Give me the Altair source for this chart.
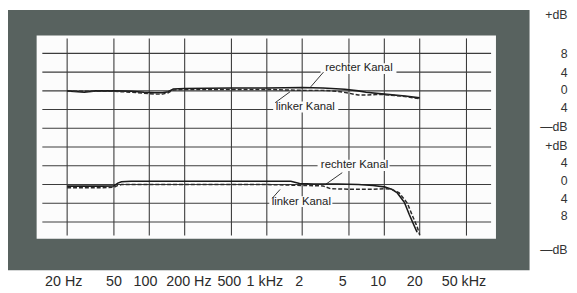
import altair as alt
import pandas as pd

# ---------------- data ----------------
# upper diagram (offset +20 dB on the common vertical scale)
UP_R_F = [20, 28, 35, 50, 70, 90, 110, 130, 145, 160, 200, 500, 1000, 2000, 3000, 4600, 6000, 7000, 10000, 15000, 20000]
UP_R_DB = [0, -0.3, 0, 0, -0.1, -0.3, -0.4, -0.4, -0.2, 0.4, 0.5, 0.6, 0.6, 0.7, 0.6, 0.35, 0, -0.3, -0.7, -1.1, -1.5]
UP_L_F = [20, 50, 70, 90, 110, 130, 145, 160, 200, 500, 1000, 2000, 3000, 4000, 5000, 6000, 7000, 8500, 10000, 15000, 20000]
UP_L_DB = [-0.1, -0.1, -0.3, -0.5, -0.7, -0.7, -0.4, 0.2, 0.3, 0.3, 0.3, 0.1, 0.1, -0.1, -0.5, -0.9, -0.9, -0.8, -0.8, -1.2, -1.7]
# lower diagram
LO_R_F = [20, 40, 50, 54, 58, 70, 100, 500, 1000, 1600, 1900, 2500, 4000, 6000, 8000, 10000, 11500, 12900, 14800, 16300, 17950, 19000]
LO_R_DB = [-0.35, -0.35, -0.3, 0.3, 0.6, 0.7, 0.7, 0.7, 0.7, 0.7, 0.2, 0.1, 0.1, 0, -0.2, -0.5, -1.0, -1.8, -3.8, -6.4, -8.8, -10.2]
LO_L_F = [20, 40, 50, 54, 58, 70, 100, 500, 1000, 2000, 3000, 3500, 5000, 8000, 10000, 11500, 13400, 15700, 17300, 19000, 20000]
LO_L_DB = [-0.7, -0.7, -0.6, -0.2, 0, 0, 0, 0, 0, -0.2, -0.3, -0.9, -1.0, -1.0, -0.9, -1.0, -1.8, -4.0, -6.6, -9.0, -10.8]

X_TICKS = [20, 50, 100, 200, 500, 1000, 2000, 5000, 10000, 20000, 50000]
# label anchor frequencies (labels are printed slightly off their grid lines)
X_LABEL_POS = [18.51, 49.6, 91.99, 215.2, 475.2, 952.6, 1873, 4381, 8785, 17950, 47160]
X_LABELS = ["20 Hz", "50", "100", "200 Hz", "500", "1 kHz", "2", "5", "10", "20", "50 kHz"]
GRID_DB = [28, 24, 20, 16, 12, 8, 4, 0, -4, -8]
RIGHT_POS = [36.2, 28.0, 24.0, 20.2, 16.4, 12.4, 8.4, 4.6, 0.8, -2.9, -6.7, -13.9]
RIGHT_LABELS = ["+dB", "8", "4", "0", "4", "\u2014dB", "+dB", "4", "0", "4", "8", "\u2014dB"]

LABEL_TEXT = ["rechter Kanal", "linker Kanal", "rechter Kanal", "linker Kanal"]
LABEL_F = [6085, 2123, 5579, 1966]
LABEL_Y = [24.95, 16.63, 4.1, -3.68]
LABEL_BG_F1 = [2865, 1133, 2704, 1049]
LABEL_BG_F2 = [12680, 4056, 11075, 3612]
LABEL_BG_Y1 = [25.9, 17.7, 5.3, -2.5]
LABEL_BG_Y2 = [23.6, 15.4, 2.9, -4.8]
LEAD_F1 = [3035, 1178, 4385, 1112]
LEAD_F2 = [2362, 1574, 3155, 1298]
LEAD_Y1 = [24.0, 17.47, 2.53, -2.95]
LEAD_Y2 = [20.84, 19.79, 0.0, -1.05]

# ---------------- tables ----------------
rows = []
for f, d in zip(UP_R_F, UP_R_DB):
    rows.append({"f": f, "db": d, "ch": "rechts", "panel": "oben"})
for f, d in zip(UP_L_F, UP_L_DB):
    rows.append({"f": f, "db": d, "ch": "links", "panel": "oben"})
for f, d in zip(LO_R_F, LO_R_DB):
    rows.append({"f": f, "db": d, "ch": "rechts", "panel": "unten"})
for f, d in zip(LO_L_F, LO_L_DB):
    rows.append({"f": f, "db": d, "ch": "links", "panel": "unten"})
curves = pd.DataFrame(rows)

hgrid = pd.DataFrame({"y": GRID_DB, "f1": 12.3, "f2": 81000})
vgrid = pd.DataFrame({"f": X_TICKS, "y1": -10.9, "y2": 31.2})
paper = pd.DataFrame({"f1": [11.0], "f2": [89100], "y1": [-11.6], "y2": [31.8]})
labels = pd.DataFrame({"t": LABEL_TEXT, "f": LABEL_F, "y": LABEL_Y})
lbg = pd.DataFrame({"f1": LABEL_BG_F1, "f2": LABEL_BG_F2, "y1": LABEL_BG_Y1, "y2": LABEL_BG_Y2})
leads = pd.DataFrame({"f1": LEAD_F1, "f2": LEAD_F2, "y1": LEAD_Y1, "y2": LEAD_Y2})

# ---------------- scales / axes ----------------
xs = alt.Scale(type="log", domain=[6.277, 172100], nice=False)
ys = alt.Scale(domain=[-18.316, 37.263], nice=False, zero=False)

x_expr = " : ".join(f"abs(datum.value - {v}) < {v * 0.001} ? '{t}'" for v, t in zip(X_LABEL_POS, X_LABELS)) + " : ''"
y_expr = " : ".join(f"abs(datum.value - {v}) < 0.01 ? '{t}'" for v, t in zip(RIGHT_POS, RIGHT_LABELS)) + " : ''"

x_axis = alt.Axis(values=X_LABEL_POS, labelExpr=x_expr, domain=False, ticks=False, grid=False,
                  labelPadding=4, labelFontSize=14.5, labelFont="Liberation Sans",
                  labelColor="#2b2b2b", labelFlush=False, labelOverlap=False, title=None)
y_axis = alt.Axis(orient="right", values=RIGHT_POS, labelExpr=y_expr, domain=False, ticks=False,
                  grid=False, labelPadding=38, labelAlign="right", labelBaseline="middle",
                  labelFontSize=12.5, labelFont="Liberation Sans", labelColor="#333333",
                  labelOverlap=False, labelFlush=False, title=None)

def X(field):
    return alt.X(field, type="quantitative", scale=xs, axis=x_axis)

def Y(field):
    return alt.Y(field, type="quantitative", scale=ys, axis=y_axis)

paper_l = alt.Chart(paper).mark_rect(color="#fcfcfc").encode(
    x=X("f1"), x2="f2", y=Y("y1"), y2="y2")

hgrid_l = alt.Chart(hgrid).mark_rule(color="#3c3c3c", strokeWidth=1.1).encode(
    x=X("f1"), x2="f2", y=Y("y"))
vgrid_l = alt.Chart(vgrid).mark_rule(color="#3c3c3c", strokeWidth=1.1).encode(
    x=X("f"), y=Y("y1"), y2="y2")

lbg_l = alt.Chart(lbg).mark_rect(color="#fcfcfc").encode(
    x=X("f1"), x2="f2", y=Y("y1"), y2="y2")
lead_l = alt.Chart(leads).mark_rule(color="#333333", strokeWidth=1).encode(
    x=X("f1"), x2="f2", y=Y("y1"), y2="y2")
text_l = alt.Chart(labels).mark_text(font="Liberation Sans", fontSize=11.5, color="#222222",
                                     baseline="middle", align="center").encode(
    x=X("f"), y=Y("y"), text="t:N")

base = alt.Chart(curves).transform_calculate(
    yy="datum.db + (datum.panel == 'oben' ? 20 : 0)")
right_l = base.transform_filter("datum.ch == 'rechts'").mark_line(
    color="#1a1a1a", strokeWidth=1.6).encode(x=X("f"), y=Y("yy"), detail="panel:N")
left_l = base.transform_filter("datum.ch == 'links'").mark_line(
    color="#2a2a2a", strokeWidth=1.5, strokeDash=[4, 2]).encode(x=X("f"), y=Y("yy"), detail="panel:N")

chart = alt.layer(paper_l, hgrid_l, vgrid_l, lbg_l, lead_l, text_l, right_l, left_l).properties(
    width=529, height=264,
    autosize=alt.AutoSizeParams(type="none"),
    padding={"left": 0, "top": 0, "right": 40, "bottom": 21},
    background="white",
).configure_view(fill="#58625f", stroke=None)

chart.save("out.html", embed_options={"renderer": "svg", "actions": False})
